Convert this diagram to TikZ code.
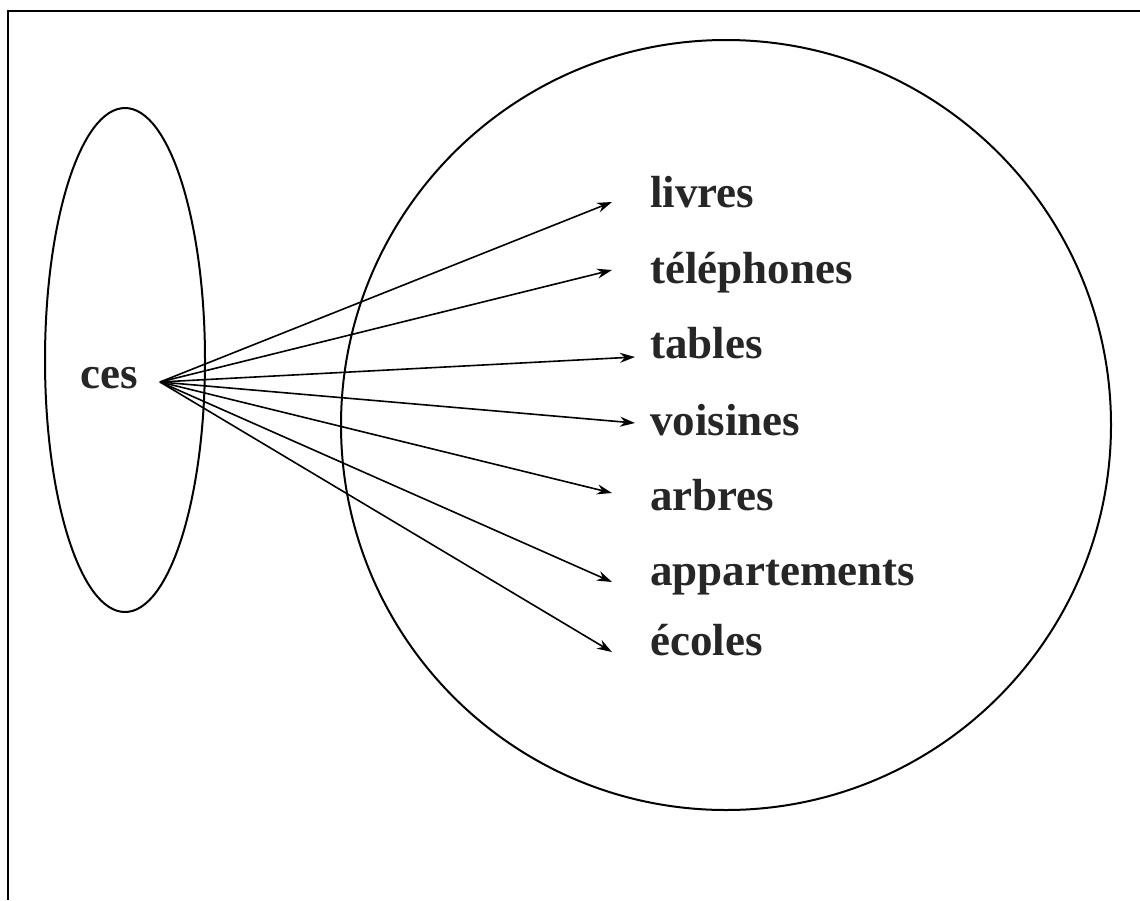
\documentclass[tikz,border=0pt]{standalone}
\usepackage{fontspec}
\setmainfont{Liberation Serif}
\usetikzlibrary{arrows.meta}
\begin{document}
\begin{tikzpicture}[x=1pt,y=-1pt,
  word/.style={font=\fontsize{45}{48}\selectfont\bfseries, inner sep=0pt, anchor=base west, text=black!85},
  link/.style={line width=1.6pt, -{Stealth[length=15pt,width=10pt]}},
  shape line/.style={line width=2pt}]
\useasboundingbox (0,0) rectangle (1140,900);
% frame (only top and left edges visible)
\draw[line width=2.5pt] (8,900) -- (8,11) -- (1140,11);
% sets
\draw[shape line] (125,360) ellipse [x radius=80, y radius=252];
\draw[shape line] (726,425) circle [radius=385];
% labels
\node[word] (ces) at (80,388) {ces};
\coordinate (fan) at (160,382);
\node[word] (livres) at (650,207) {livres};
\node[word] (tel) at (650,283) {téléphones};
\node[word] (tables) at (650,358) {tables};
\node[word] (vois) at (650,435) {voisines};
\node[word] (arbres) at (650,510) {arbres};
\node[word] (appart) at (650,585) {appartements};
\node[word] (ecoles) at (650,655) {écoles};
% arrow tips
\coordinate (t1) at (612,202);
\coordinate (t2) at (612,270);
\coordinate (t3) at (635,357);
\coordinate (t4) at (635,423);
\coordinate (t5) at (612,493);
\coordinate (t6) at (612,582);
\coordinate (t7) at (612,652);
\foreach \t in {t1,t2,t3,t4,t5,t6,t7}
  \draw[link] (fan) -- (\t);
\end{tikzpicture}
\end{document}
